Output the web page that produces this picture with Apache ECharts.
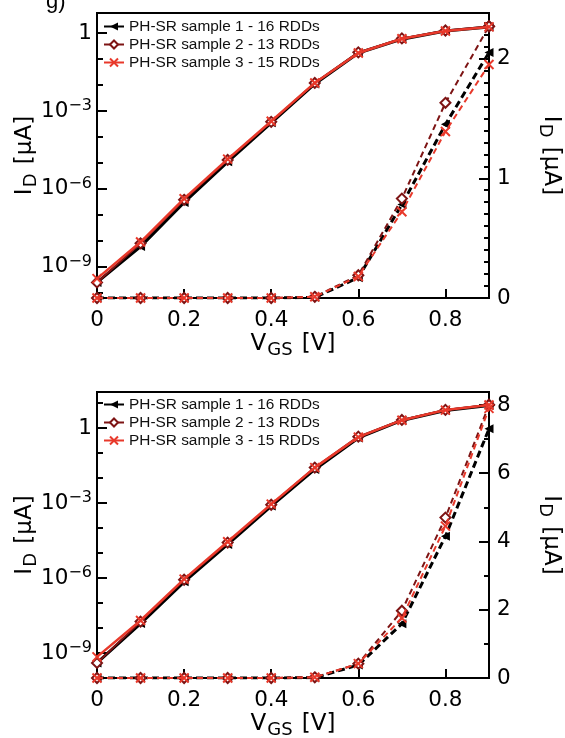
<!DOCTYPE html>
<html><head><meta charset="utf-8">
<script src="https://cdn.jsdelivr.net/npm/echarts@6/dist/echarts.min.js"></script>
<style>html,body{margin:0;padding:0;background:#fff}#c{width:565px;height:738px}</style>
</head><body><div id="c"></div>
<script>
// ---------- data ----------
const vgs = [0, 0.1, 0.2, 0.3, 0.4, 0.5, 0.6, 0.7, 0.8, 0.9];
const sampleNames = ['PH-SR sample 1 - 16 RDDs', 'PH-SR sample 2 - 13 RDDs', 'PH-SR sample 3 - 15 RDDs'];

// top panel, log scale I_D [uA]
const topLogS1 = [2.5e-10, 6e-9, 3e-7, 1.1e-5, 3.5e-4, 1.1e-2, 0.17, 0.58, 1.2, 1.7];
const topLogS2 = [2.5e-10, 8e-9, 3.8e-7, 1.3e-5, 3.8e-4, 1.2e-2, 0.18, 0.62, 1.25, 1.8];
const topLogS3 = [3.5e-10, 9e-9, 4.2e-7, 1.4e-5, 4e-4, 1.2e-2, 0.17, 0.6, 1.2, 1.72];
// top panel, linear scale I_D [uA]
const topLinS1 = [0, 0, 0, 0, 0, 0.005, 0.17, 0.78, 1.45, 2.05];
const topLinS2 = [0, 0, 0, 0, 0, 0.01, 0.19, 0.83, 1.63, 2.27];
const topLinS3 = [0, 0, 0, 0, 0, 0.01, 0.18, 0.72, 1.39, 1.95];

// bottom panel, log scale
const botLogS1 = [4e-10, 1.5e-8, 7e-7, 2.2e-5, 7.5e-4, 2.2e-2, 0.4, 2.0, 5.0, 8.0];
const botLogS2 = [4e-10, 1.8e-8, 8.5e-7, 2.6e-5, 8.5e-4, 2.6e-2, 0.45, 2.1, 5.3, 8.5];
const botLogS3 = [7e-10, 2e-8, 9e-7, 2.8e-5, 9e-4, 2.6e-2, 0.43, 2.05, 5.2, 8.3];
// bottom panel, linear scale
const botLinS1 = [0, 0, 0, 0, 0, 0.01, 0.38, 1.59, 4.15, 7.3];
const botLinS2 = [0, 0, 0, 0, 0, 0.02, 0.42, 1.97, 4.7, 8.0];
const botLinS3 = [0, 0, 0, 0, 0, 0.02, 0.42, 1.76, 4.45, 7.9];

// ticks
const xTickValues = [0, 0.2, 0.4, 0.6, 0.8];
const logLabelValues = [1e-9, 1e-6, 1e-3, 1];
const logTickValues = [1e-10, 1e-9, 1e-8, 1e-7, 1e-6, 1e-5, 1e-4, 1e-3, 1e-2, 1e-1, 1, 10];
const topLinLabelValues = [0, 1, 2];
const botLinLabelValues = [0, 2, 4, 6, 8];

// ---------- style ----------
const FONT = 'Liberation Sans, Arial, Helvetica, sans-serif';
const AFONT = 'DejaVu Sans, sans-serif';
const colors = ['#000000', '#7d1414', '#e8392b'];
const solidWidths = [3, 2, 2.5];
const dashWidths = [3, 2, 2];
const dashTypes = [[7, 4], [6, 4], [6, 4]];
const symbols = ['triangle', 'emptyDiamond', 'path://M0,0L10,10M10,0L0,10'];
const symbolSizes = [9, 10, 9];
const symbolRotates = [90, 0, 0];

const panels = [
  { top: 13, height: 285, logMin: 6.3e-11, logMax: 5.9, linMax: 2.38, linInterval: 1, linSplit: 10, linLabels: topLinLabelValues,
    log: [topLogS1, topLogS2, topLogS3], lin: [topLinS1, topLinS2, topLinS3], legendTop: 19 },
  { top: 392, height: 286, logMin: 1e-10, logMax: 27.5, linMax: 8.38, linInterval: 2, linSplit: 2, linLabels: botLinLabelValues,
    log: [botLogS1, botLogS2, botLogS3], lin: [botLinS1, botLinS2, botLinS3], legendTop: 397 }
];

const tickRich = {
  n: { fontSize: 21.5, lineHeight: 26, fontFamily: AFONT, color: '#000', verticalAlign: 'middle' },
  s: { fontSize: 16, lineHeight: 16, fontFamily: AFONT, color: '#000', verticalAlign: 'top' }
};
const nameRich = {
  a: { fontSize: 23, lineHeight: 30, fontFamily: AFONT, color: '#000', verticalAlign: 'middle' },
  b: { fontSize: 18, lineHeight: 18, fontFamily: AFONT, color: '#000', verticalAlign: 'bottom', padding: [0, 2, 0, 1] }
};

function logLabel(v) {
  const e = Math.round(Math.log10(v));
  if (e === 0) return '{n|1}';
  return '{n|10}{s|\u2212' + (-e) + '}';
}

function tickLine() { return { color: '#000', width: 2 }; }

const option = {
  animation: false,
  backgroundColor: '#fff',
  graphic: [{ type: 'text', left: 46, top: -9, style: { text: 'g)', font: '22px ' + FONT, fill: '#000' } }],
  grid: [], xAxis: [], yAxis: [], series: [], legend: []
};

panels.forEach((p, pi) => {
  option.grid.push({ left: 97, top: p.top, width: 392, height: p.height, outerBoundsMode: 'none', containLabel: false,
    show: true, borderColor: '#000', borderWidth: 2, backgroundColor: 'transparent' });
  option.xAxis.push({
    type: 'value', gridIndex: pi, min: 0, max: 0.9,
    axisLine: { show: true, onZero: false, lineStyle: tickLine() },
    axisTick: { show: true, inside: true, length: 9, customValues: xTickValues, lineStyle: tickLine() },
    axisLabel: { customValues: xTickValues, fontSize: 21.5, fontFamily: AFONT, color: '#000', margin: 11, formatter: v => String(v) },
    splitLine: { show: false },
    name: '{a|V}{b|GS}{a| [V]}', nameLocation: 'middle', nameGap: 31,
    nameTextStyle: { rich: nameRich }
  });
  // left log axis: labels + major ticks
  option.yAxis.push({
    type: 'log', logBase: 10, gridIndex: pi, position: 'left', min: p.logMin, max: p.logMax,
    axisLine: { show: true, onZero: false, lineStyle: tickLine() },
    axisTick: { show: true, inside: true, length: 10, customValues: logLabelValues, lineStyle: tickLine() },
    axisLabel: { customValues: logLabelValues, margin: 5, formatter: logLabel, rich: tickRich },
    splitLine: { show: false },
    name: '{a|I}{b|D}{a| [\u03bcA]}', nameLocation: 'middle', nameGap: 57, nameRotate: 90, nameMoveOverlap: false,
    nameTextStyle: { rich: nameRich }
  });
  // right linear axis
  option.yAxis.push({
    type: 'value', gridIndex: pi, position: 'right', min: 0, max: p.linMax, interval: p.linInterval,
    axisLine: { show: true, onZero: false, lineStyle: tickLine() },
    axisTick: { show: true, inside: true, length: 10, lineStyle: tickLine() },
    minorTick: { show: true, splitNumber: p.linSplit, length: 5, lineStyle: tickLine() },
    axisLabel: { customValues: p.linLabels, fontSize: 21.5, fontFamily: AFONT, color: '#000', margin: 8 },
    splitLine: { show: false }, minorSplitLine: { show: false },
    name: '{a|I}{b|D}{a| [\u03bcA]}', nameLocation: 'middle', nameGap: 47, nameRotate: -90, nameMoveOverlap: false,
    nameTextStyle: { rich: nameRich }
  });
  // left log axis: decade ticks only
  option.yAxis.push({
    type: 'log', logBase: 10, gridIndex: pi, position: 'left', min: p.logMin, max: p.logMax,
    axisLine: { show: false, onZero: false },
    axisTick: { show: true, inside: true, length: 6, customValues: logTickValues, lineStyle: tickLine() },
    axisLabel: { show: false }, splitLine: { show: false }
  });
  const base = pi * 3;
  for (let s = 0; s < 3; s++) {
    option.series.push({
      type: 'line', name: sampleNames[s], xAxisIndex: pi, yAxisIndex: base,
      data: vgs.map((x, i) => [x, p.log[s][i]]),
      symbol: symbols[s], symbolSize: symbolSizes[s], symbolRotate: symbolRotates[s],
      lineStyle: { color: colors[s], width: solidWidths[s] },
      itemStyle: { color: colors[s], borderColor: colors[s], borderWidth: s === 0 ? 0 : 2 },
      z: 3 + s
    });
  }
  for (let s = 0; s < 3; s++) {
    option.series.push({
      type: 'line', name: sampleNames[s], xAxisIndex: pi, yAxisIndex: base + 1,
      data: vgs.map((x, i) => [x, p.lin[s][i]]),
      symbol: symbols[s], symbolSize: symbolSizes[s], symbolRotate: symbolRotates[s],
      lineStyle: { color: colors[s], width: dashWidths[s], type: dashTypes[s] },
      itemStyle: { color: colors[s], borderColor: colors[s], borderWidth: s === 0 ? 0 : 2 },
      z: 3 + s
    });
  }
  option.legend.push({
    data: sampleNames, orient: 'vertical', left: 103, top: p.legendTop, padding: 0,
    itemWidth: 20, itemHeight: 10, itemGap: 3, selectedMode: false,
    textStyle: { fontSize: 15.4, fontFamily: FONT, color: '#111' }
  });
});

const chart = echarts.init(document.getElementById('c'), null, { renderer: 'canvas' });
chart.setOption(option);
</script>
</body></html>
